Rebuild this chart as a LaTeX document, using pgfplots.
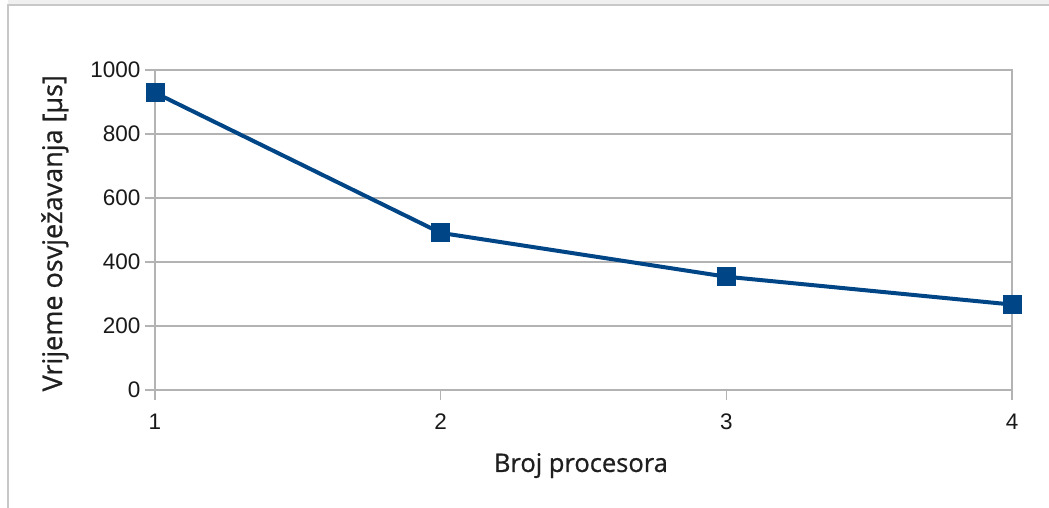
\documentclass[border=0pt]{standalone}
\usepackage{fontspec}
\setmainfont{Liberation Sans}
\newfontfamily\labelfont[FakeBold=0.8]{Open Sans}
\usepackage{pgfplots}
\pgfplotsset{compat=1.18}
\definecolor{lineblue}{HTML}{004586}
\definecolor{gridgray}{HTML}{B3B3B3}
\definecolor{framegray}{HTML}{C8C8C8}

\begin{document}
\begin{tikzpicture}
\useasboundingbox (0pt,0pt) rectangle (1049pt,508pt);
% frame of the chart
\fill[black!6] (8pt,503pt) rectangle (1049pt,508pt);
\draw[framegray, line width=1.5pt] (8pt,0pt) -- (8pt,503pt) -- (1049pt,503pt);
\begin{axis}[
    at={(155pt,118pt)}, anchor=south west,
    scale only axis,
    width=857pt, height=320pt,
    xmin=1, xmax=4, ymin=0, ymax=1000,
    xtick={1,2,3,4}, ytick={0,200,...,1000},
    xtick pos=bottom, ytick pos=left,
    tick align=outside, major tick length=10pt,
    tick style={gridgray, line width=1.5pt},
    axis line style={gridgray, line width=1.5pt},
    ymajorgrids, grid style={gridgray, line width=1.5pt},
    /pgf/number format/assume math mode=true,
    /pgf/number format/1000 sep={},
    tick label style={font=\fontsize{22.5}{25}\selectfont, text=black!90},
    yticklabel style={xshift=-1pt},
    xticklabel style={yshift=-10pt},
    xlabel={Broj procesora}, ylabel={Vrijeme osvježavanja [µs]},
    xlabel style={font=\labelfont\fontsize{25.5}{30}\selectfont, text=black!88,
        at={(axis description cs:0.497,-0.256)}, anchor=base},
    ylabel style={font=\labelfont\fontsize{27}{31}\selectfont, text=black!88,
        at={(axis description cs:-0.1085,0.49)}, anchor=base},
    clip=false,
]
\addplot[lineblue, line width=4pt, mark=square*, mark size=9pt,
         mark options={solid, fill=lineblue, draw=lineblue, line width=0pt}]
    coordinates {(1,929) (2,491) (3,354) (4,267)};
\end{axis}
\end{tikzpicture}
\end{document}
